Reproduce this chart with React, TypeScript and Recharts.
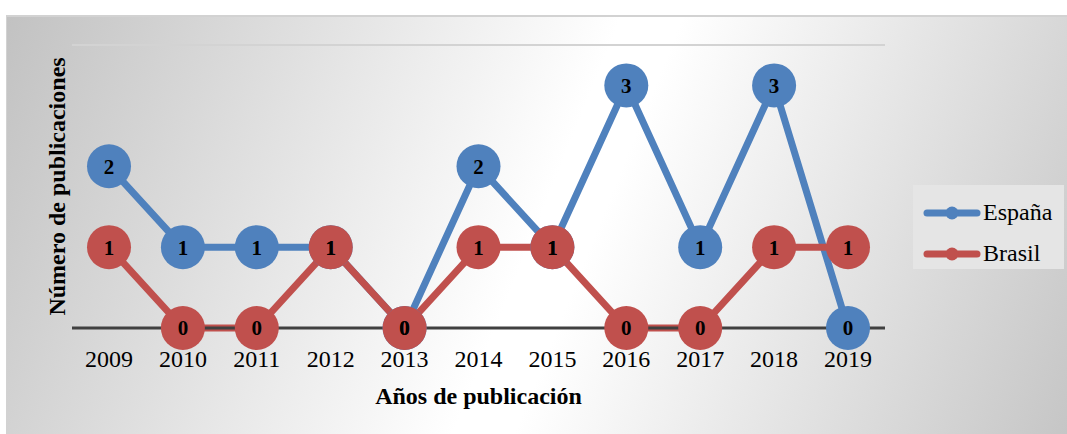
import React from 'react';
import { LineChart, Line, CartesianGrid, XAxis, YAxis, Legend, LabelList } from 'recharts';

const years = ['2009', '2010', '2011', '2012', '2013', '2014', '2015', '2016', '2017', '2018', '2019'];
const espana = [2, 1, 1, 1, 0, 2, 1, 3, 1, 3, 0];
const brasil = [1, 0, 0, 1, 0, 1, 1, 0, 0, 1, 1];
const yTicks = [0, 0.5, 1, 1.5, 2, 2.5, 3, 3.5];
const seriesNames = ['España', 'Brasil'];

const data = years.map((year, i) => ({ year, espana: espana[i], brasil: brasil[i] }));

const serif = '"Liberation Serif", "Times New Roman", serif';

const renderLegend = (props: any) => {
  const payload = [...(props.payload || [])].sort(
    (a: any, b: any) => seriesNames.indexOf(a.value) - seriesNames.indexOf(b.value)
  );
  return (
    <div style={{ background: '#e5e5e5', width: '100%', height: '100%', paddingTop: 7, boxSizing: 'border-box' }}>
      {payload.map((entry: any) => (
        <div key={entry.value} style={{ display: 'flex', alignItems: 'center', height: 41, paddingLeft: 10 }}>
          <svg width={58} height={16} style={{ display: 'block' }}>
            <line x1={4} y1={8} x2={54} y2={8} stroke={entry.color} strokeWidth={7} strokeLinecap="round" />
            <circle cx={29} cy={8} r={6.5} fill={entry.color} />
          </svg>
          <span style={{ fontFamily: serif, fontSize: 24, color: '#000', marginLeft: 2 }}>{entry.value}</span>
        </div>
      ))}
    </div>
  );
};

export default function App() {
  return (
    <div style={{ position: 'absolute', left: 0, top: 0, width: 1067, height: 434, background: '#fff' }}>
      <div
        style={{
          position: 'absolute',
          left: 6,
          top: 15,
          width: 1061,
          height: 419,
          borderTop: '2px solid #d2d2d2',
          borderLeft: '1px solid #d2d2d2',
          boxSizing: 'border-box',
          background: 'linear-gradient(112deg, #c2c2c2 0%, #ffffff 50%, #ffffff 55%, #c6c6c6 100%)',
        }}
      />
      <div style={{ position: 'absolute', left: 0, top: 0 }}>
        <LineChart width={1067} height={434} data={data} margin={{ top: 45, right: 182, bottom: 0, left: 0 }}>
          <CartesianGrid vertical={false} stroke="#d3d3d3" strokeWidth={2} />
          <XAxis
            dataKey="year"
            height={106}
            padding={{ left: 37, right: 37 }}
            axisLine={{ stroke: '#404040', strokeWidth: 3 }}
            tickLine={false}
            tickSize={0}
            tickMargin={22}
            tick={{ fill: '#000', fontSize: 24, fontFamily: serif }}
            label={{
              value: 'Años de publicación',
              position: 'center',
              dy: 14,
              style: { fill: '#000', fontSize: 24, fontWeight: 'bold', fontFamily: serif },
            }}
          />
          <YAxis
            width={72}
            domain={[0, 3.5]}
            ticks={yTicks}
            tick={false}
            axisLine={false}
            tickLine={false}
            label={{
              value: 'Número de publicaciones',
              angle: -90,
              position: 'center',
              dx: 20,
              style: { fill: '#000', fontSize: 24, fontWeight: 'bold', fontFamily: serif, textAnchor: 'middle' },
            }}
          />
          <Legend
            layout="vertical"
            align="center"
            verticalAlign="middle"
            content={renderLegend}
            wrapperStyle={{ position: 'absolute', left: 913, top: 185, width: 151, height: 84 }}
          />
          <Line
            dataKey="espana"
            name="España"
            stroke="#4F81BD"
            strokeWidth={7}
            dot={{ r: 22, fill: '#4F81BD', stroke: '#4F81BD', strokeWidth: 0 }}
            activeDot={false}
            isAnimationActive={false}
          >
            <LabelList dataKey="espana" position="center" style={{ fill: '#000', fontSize: 21, fontWeight: 'bold', fontFamily: serif }} />
          </Line>
          <Line
            dataKey="brasil"
            name="Brasil"
            stroke="#C0504D"
            strokeWidth={7}
            dot={{ r: 22, fill: '#C0504D', stroke: '#C0504D', strokeWidth: 0 }}
            activeDot={false}
            isAnimationActive={false}
          >
            <LabelList dataKey="brasil" position="center" style={{ fill: '#000', fontSize: 21, fontWeight: 'bold', fontFamily: serif }} />
          </Line>
        </LineChart>
      </div>
    </div>
  );
}
